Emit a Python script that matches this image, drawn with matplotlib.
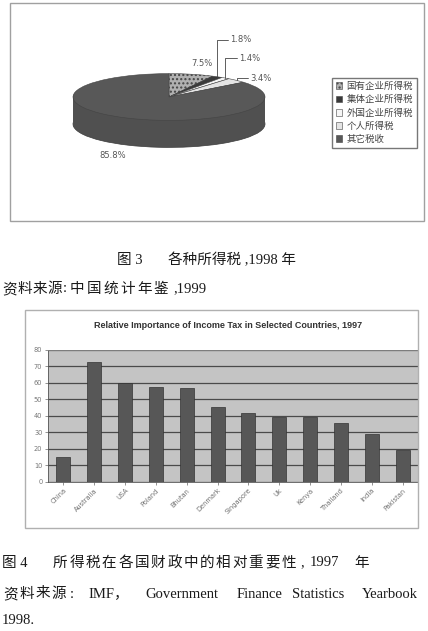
import matplotlib
matplotlib.use('Agg')
import matplotlib.pyplot as plt
import numpy as np
from matplotlib.patches import Rectangle
from matplotlib.font_manager import FontProperties

# ---------------- data ----------------
pie_labels = ['国有企业所得税', '集体企业所得税', '外国企业所得税', '个人所得税', '其它税收']
pie_values = [7.5, 1.8, 1.4, 3.4, 85.8]
pie_texts = ['7.5%', '1.8%', '1.4%', '3.4%', '85.8%']

countries = ['China', 'Australia', 'USA', 'Poland', 'Bhutan', 'Denmark',
             'Singapore', 'Uk', 'Kenya', 'Thailand', 'India', 'Pakistan']
income_tax_share = [15, 73, 60, 57.5, 57, 45.5, 41.5, 39, 39, 35.5, 29, 19.5]
y_ticks = [0, 10, 20, 30, 40, 50, 60, 70, 80]

bar_title = 'Relative Importance of Income Tax in Selected Countries, 1997'

# ---------------- figure ----------------
W, H, DPI = 428, 631, 100
fig = plt.figure(figsize=(W / DPI, H / DPI), dpi=DPI)
fig.patch.set_facecolor('white')


def fx(px):
    return px / W


def fy(py):
    return 1 - py / H


def frame(x0, y0, x1, y1, color):
    fig.patches.append(Rectangle((fx(x0), fy(y1)), fx(x1) - fx(x0), fy(y0) - fy(y1),
                                 transform=fig.transFigure, fill=False,
                                 edgecolor=color, linewidth=1.0))


frame(10, 3, 424, 221, '#a0a0a0')
frame(25, 310, 418, 528, '#b0b0b0')

# ---------------- 3D-looking pie ----------------
cx, cy, rx, ry = 169, 97, 96, 23.4       # pixel geometry of the top face
depth = 27 / ry
ax_p = fig.add_axes([0, fy(231), 1, 231 / H])

top_colors = ['#b0b0b0', '#3a3a3a', '#f6f6f6', '#e4e4e4', '#585858']
side_colors = ['#8c8c8c', '#2c2c2c', '#d0d0d0', '#c4c4c4', '#505050']

layers = np.linspace(depth, 0, 36)[:-1]
for i, d in enumerate(layers):
    ax_p.pie(pie_values, startangle=90, counterclock=False, colors=side_colors,
             center=(0, -d), radius=1,
             wedgeprops=dict(linewidth=0.5 if i == 0 else 0,
                             edgecolor='#3a3a3a' if i == 0 else 'none'))
wedges, _ = ax_p.pie(pie_values, startangle=90, counterclock=False, colors=top_colors,
                     center=(0, 0), radius=1,
                     wedgeprops=dict(linewidth=0.4, edgecolor='#444444'))
wedges[0].set_hatch('....')

ax_p.set_aspect('auto')
ax_p.set_xlim((0 - cx) / rx, (W - cx) / rx)
ax_p.set_ylim((cy - 231) / ry, cy / ry)
ax_p.axis('off')

# labels
offsets = [(10, 11), (13, 37), (14, 20), (14, 2), (-15, -10)]
leader = [False, True, True, True, False]
for w, txt, off, ld in zip(wedges, pie_texts, offsets, leader):
    ang = np.deg2rad((w.theta1 + w.theta2) / 2)
    ax_, ay_ = np.cos(ang), np.sin(ang)
    if ay_ < 0:
        ay_ -= depth
    kw = dict(fontsize=6, color='#555555', family='DejaVu Sans')
    if ld:
        ax_p.annotate(txt, xy=(ax_, ay_), xytext=off, textcoords='offset pixels',
                      ha='left', va='center',
                      arrowprops=dict(arrowstyle='-', color='#444444', lw=0.6,
                                      shrinkA=0, shrinkB=0, relpos=(0, 0.5),
                                      connectionstyle='angle,angleA=0,angleB=90,rad=0'),
                      **kw)
    else:
        ax_p.annotate(txt, xy=(ax_, ay_), xytext=off, textcoords='offset pixels',
                      ha='center', va='center', **kw)

ax_p.legend(wedges, pie_labels, loc='upper left',
            bbox_to_anchor=(fx(332), fy(78)), bbox_transform=fig.transFigure,
            prop=FontProperties(family='Noto Sans CJK SC', size=6.8),
            frameon=True, fancybox=False, edgecolor='#555555',
            handlelength=0.7, handleheight=0.7, handletextpad=0.45,
            labelspacing=0.42, borderpad=0.4, borderaxespad=0,
            labelcolor='#444444')

# ---------------- bar chart ----------------
ax_b = fig.add_axes([fx(48), fy(481.7), fx(370), 131.7 / H])
x = np.arange(len(countries))
ax_b.bar(x, income_tax_share, width=0.45, color='#575757', edgecolor='#333333',
         linewidth=0.5, zorder=3)
ax_b.set_xlim(-0.5, len(countries) - 0.5)
ax_b.set_ylim(0, 80)
ax_b.set_facecolor('#c4c4c4')
ax_b.set_yticks(y_ticks)
ax_b.set_yticklabels([str(v) for v in y_ticks], fontsize=4.8, color='#777777')
ax_b.set_xticks(x)
ax_b.set_xticklabels(countries, fontsize=4.8, color='#707070', rotation=45,
                     ha='right', va='top', rotation_mode='anchor')
ax_b.yaxis.grid(True, color='#4a4a4a', linewidth=0.9)
ax_b.set_axisbelow(True)
ax_b.tick_params(axis='both', length=2, width=0.5, color='#666666', pad=2)
for s in ax_b.spines.values():
    s.set_color('#888888')
    s.set_linewidth(0.6)
ax_b.spines['left'].set_color('#555555')
ax_b.spines['bottom'].set_color('#555555')

fig.text(fx(228), fy(325), bar_title, ha='center', va='center', fontsize=6.5,
         fontweight='bold', family='Liberation Sans', color='#333333')

# ---------------- captions ----------------
cap = dict(family=['Liberation Serif', 'Noto Sans CJK SC'], fontsize=10.5,
           color='#1a1a1a', va='center', ha='left')


def spaced(text, x0, ypx, pitch):
    for i, ch in enumerate(text):
        fig.text(fx(x0 + i * pitch), fy(ypx), ch, **cap)


fig.text(fx(117), fy(260), '图 3', **cap)
fig.text(fx(168), fy(260), '各种所得税 ,1998 年', **cap)

spaced('资料来源', 2, 289, 15.2)
fig.text(fx(63), fy(289), ':', **cap)
spaced('中国统计年鉴', 70, 289, 16.8)
fig.text(fx(173), fy(289), ',1999', **cap)

fig.text(fx(2), fy(563), '图 4', **cap)
spaced('所得税在各国财政中的相对重要性', 53, 563, 16.3)
fig.text(fx(300), fy(563), ',', **cap)
fig.text(fx(310), fy(563), '1997', **cap)
fig.text(fx(354), fy(563), '年', **cap)

spaced('资料来源', 3, 594, 16.2)
fig.text(fx(70), fy(594), ':', **cap)
words = ['IMF，', 'Government', 'Finance', 'Statistics', 'Yearbook']
word_x = [88, 145, 237, 292, 362]
for wd, wx in zip(words, word_x):
    fig.text(fx(wx), fy(594), wd, **cap)
fig.text(fx(2), fy(620), '1998.', **cap)

fig.savefig('out.png', dpi=DPI)
